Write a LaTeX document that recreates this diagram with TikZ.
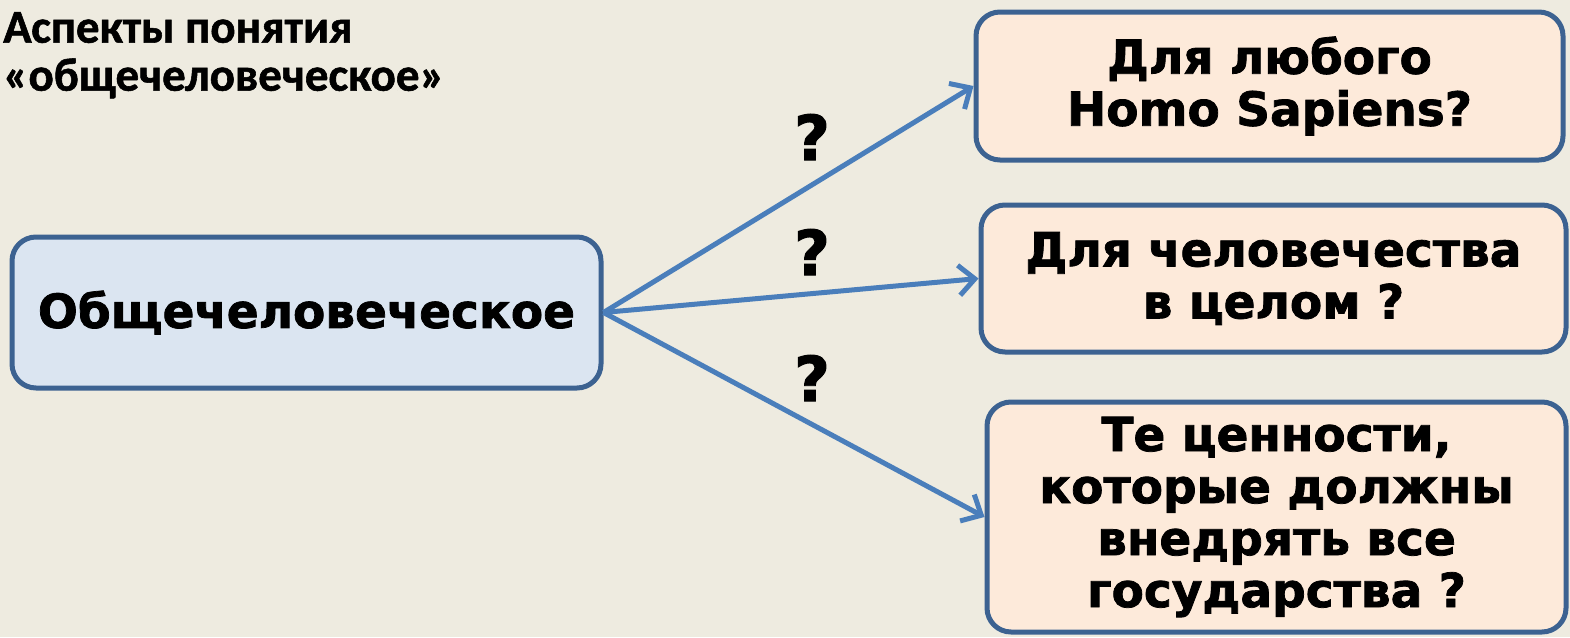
\documentclass[tikz,border=0pt]{standalone}
\usepackage{fontspec}
\setmainfont{DejaVu Sans}
\newfontfamily\boxfont{DejaVu Sans}[UprightFont=* Bold, FakeBold=1.6]
\newfontfamily\titlefont{Carlito}[UprightFont=* Bold, FakeBold=1.2]
\usetikzlibrary{arrows.meta}
\definecolor{bgc}{HTML}{EEEBE0}
\definecolor{bluefill}{HTML}{DBE5F1}
\definecolor{peachfill}{HTML}{FDEADA}
\definecolor{edgec}{HTML}{3C6291}
\definecolor{arrowc}{HTML}{4A7EBB}
\tikzset{
  boxbase/.style={draw=edgec, line width=5pt, rounded corners=24pt, align=center,
    inner sep=0pt, font=\boxfont\fontsize{47}{52}\selectfont},
  leftbox/.style={boxbase, fill=bluefill},
  rightbox/.style={boxbase, fill=peachfill},
  conn/.style={draw=arrowc, line width=5pt,
    -{Straight Barb[length=16pt,width=30pt,line width=5pt]}},
  qmark/.style={font=\boxfont\fontsize{62}{62}\selectfont, inner sep=0pt},
  titletext/.style={font=\titlefont\fontsize{47}{48}\selectfont, align=left, inner sep=0pt, anchor=north west}
}
\begin{document}
\begin{tikzpicture}[x=1pt,y=-1pt]
\fill[bgc] (0,0) rectangle (1570,637);
\useasboundingbox (0,0) rectangle (1570,637);
\node[titletext] (title) at (3,12) {Аспекты понятия\\«общечеловеческое»};
\node[leftbox, minimum width=589pt, minimum height=151pt] (main) at (306.5,312.5) {Общечеловеческое};
\node[rightbox, minimum width=587pt, minimum height=148pt] (b1) at (1269.5,86) {Для любого\\Homo Sapiens?};
\node[rightbox, minimum width=585pt, minimum height=147pt] (b2) at (1273.5,278.5) {Для человечества\\в целом ?};
\node[rightbox, minimum width=579pt, minimum height=230pt] (b3) at (1276.5,517) {Те ценности,\\которые должны\\внедрять все\\государства ?};
\draw[conn] (main.east) -- (b1.west);
\draw[conn] (main.east) -- (b2.west);
\draw[conn] (main.east) -- (b3.west);
\node[qmark] (q1) at (812,137) {?};
\node[qmark] (q2) at (812,252) {?};
\node[qmark] (q3) at (812,378) {?};
\end{tikzpicture}
\end{document}
